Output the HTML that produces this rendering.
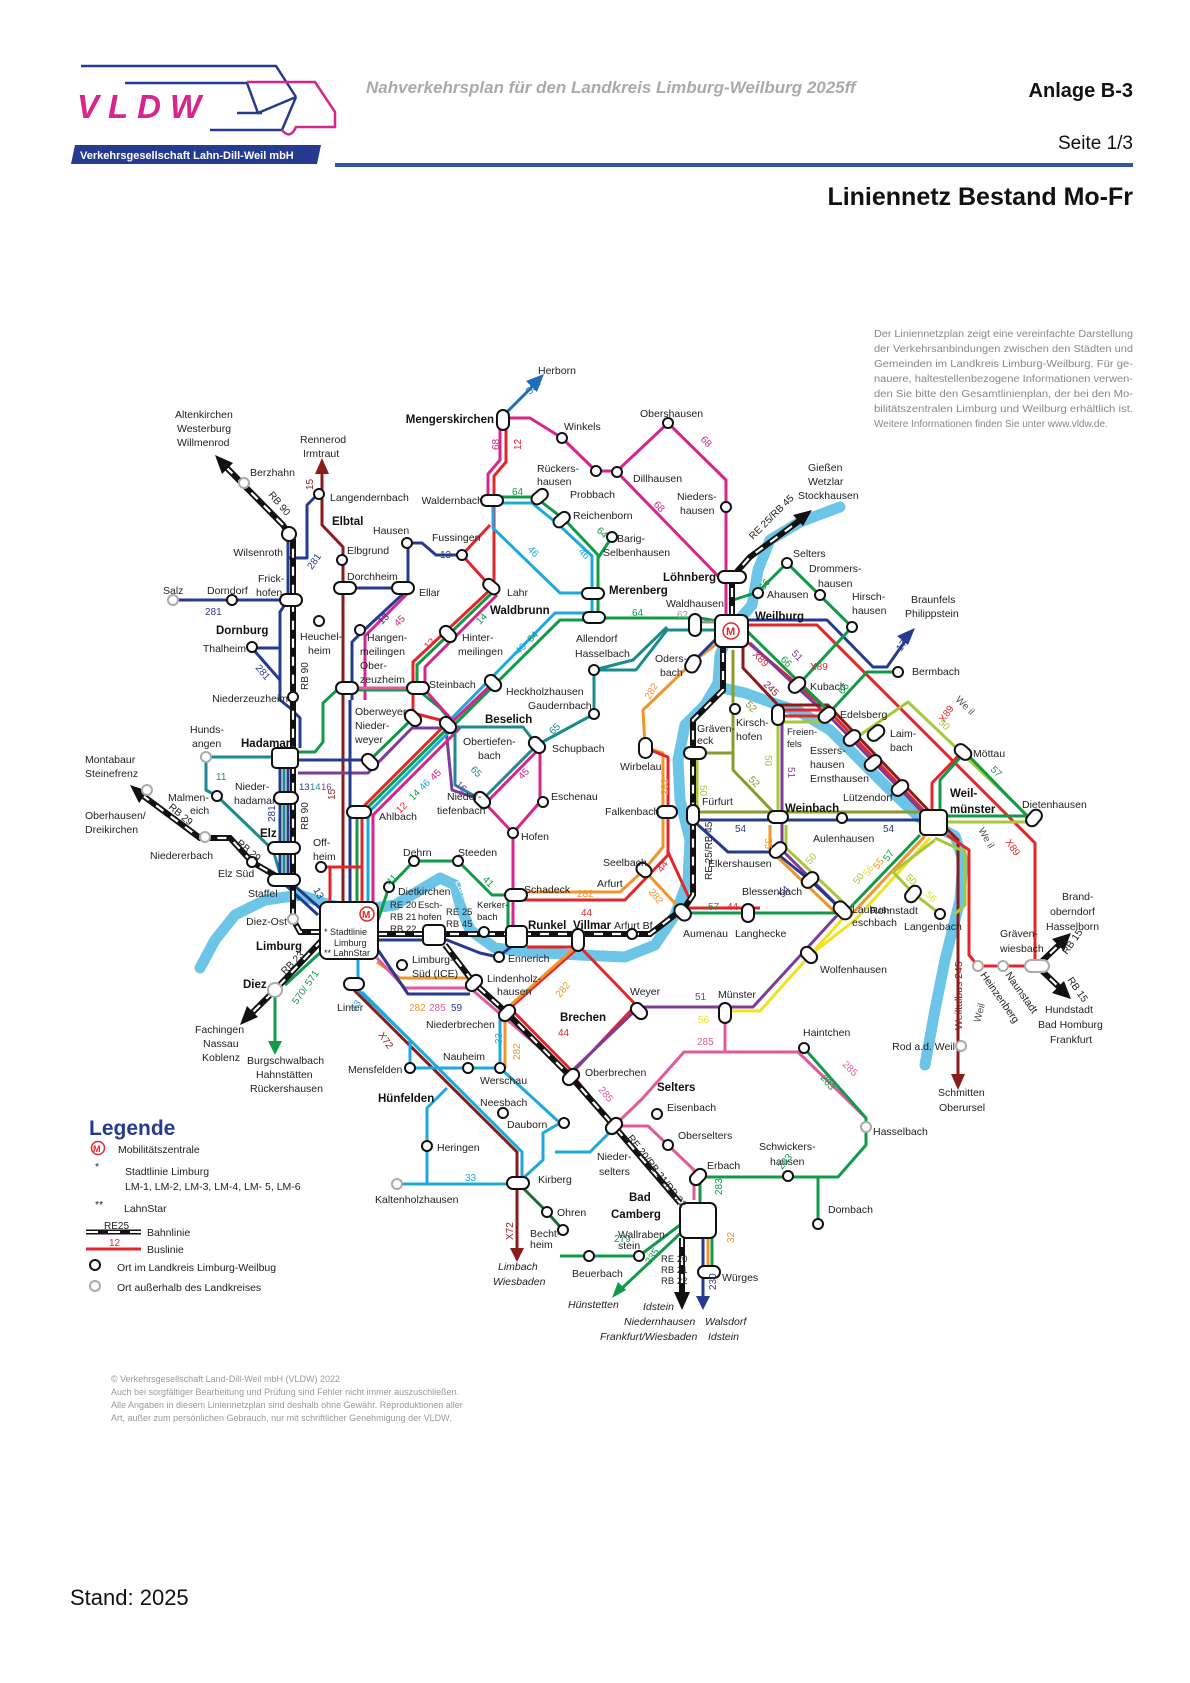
<!DOCTYPE html>
<html><head><meta charset="utf-8"><style>
html,body{margin:0;padding:0;background:#fff}
svg{display:block}
text{font-family:"Liberation Sans Narrow","Liberation Sans",sans-serif;fill:#222}
.s{font-size:10.5px}
.b{font-size:11.5px;font-weight:bold;fill:#111}
.n{font-size:10px}
.i{font-style:italic}
.k{font-size:9.5px}
.l{fill:none;stroke-width:3;stroke-linejoin:round}
.rd{stroke:#e3262b}.dr{stroke:#8b1c1c}.gr{stroke:#139a48}.cy{stroke:#1fa8dd}.nv{stroke:#263b8f}
.mg{stroke:#d6258c}.pk{stroke:#e05a9c}.or{stroke:#f0952c}.ye{stroke:#f2e21e}.lg{stroke:#a6c83a}
.ol{stroke:#8c9a2c}.pu{stroke:#7d3c97}.tl{stroke:#1b8b8c}.gy{stroke:#999}
.st{fill:#fff;stroke:#111;stroke-width:2}
.so{fill:#fff;stroke:#aaa;stroke-width:2}
.rb{fill:none;stroke:#111;stroke-width:6}
.rw{fill:none;stroke:#fff;stroke-width:2.2;stroke-dasharray:9 9}
</style></head><body>
<svg width="1190" height="1683" viewBox="0 0 1190 1683" xmlns="http://www.w3.org/2000/svg">
<g>
<path d="M81,66 H276 L296,97" stroke="#263b8f" stroke-width="2.5" fill="none"/>
<path d="M125,83 H247 L258,113 L296,97" stroke="#263b8f" stroke-width="2.5" fill="none"/>
<path d="M237,113 H262" stroke="#263b8f" stroke-width="2.5"/>
<path d="M210,130 H282 L296,97" stroke="#263b8f" stroke-width="2.5" fill="none"/>
<path d="M247,82 H315 L335,112 V127 H296 Q290,140 282,130" stroke="#d6258c" stroke-width="2.5" fill="none"/>
<text x="77" y="118" style="font-family:'Liberation Sans',sans-serif;font-size:33px;font-weight:bold;font-style:italic;fill:#d6258c;letter-spacing:9px">VLDW</text>
<polygon points="75,145 321,145 317,164 71,164" fill="#263b8f"/>
<text x="80" y="159" style="font-size:11px;font-weight:bold;fill:#fff">Verkehrsgesellschaft Lahn-Dill-Weil mbH</text>
<text x="366" y="93" style="font-family:'Liberation Sans',sans-serif;font-size:17px;font-style:italic;font-weight:bold;fill:#aaa">Nahverkehrsplan für den Landkreis Limburg-Weilburg 2025ff</text>
<text x="1133" y="97" text-anchor="end" style="font-family:'Liberation Sans',sans-serif;font-size:20px;font-weight:bold;fill:#111">Anlage B-3</text>
<text x="1133" y="149" text-anchor="end" style="font-family:'Liberation Sans',sans-serif;font-size:19px;fill:#111">Seite 1/3</text>
<rect x="335" y="163" width="798" height="4" fill="#2f56a8"/>
<text x="1133" y="205" text-anchor="end" style="font-family:'Liberation Sans',sans-serif;font-size:25px;font-weight:bold;fill:#111">Liniennetz Bestand Mo-Fr</text>
</g>
<g>
<text x="874" y="337" textLength="259" lengthAdjust="spacingAndGlyphs" style="font-size:10px;fill:#888">Der Liniennetzplan zeigt eine vereinfachte Darstellung</text>
<text x="874" y="352" textLength="259" lengthAdjust="spacingAndGlyphs" style="font-size:10px;fill:#888">der Verkehrsanbindungen zwischen den Städten und</text>
<text x="874" y="367" textLength="259" lengthAdjust="spacingAndGlyphs" style="font-size:10px;fill:#888">Gemeinden im Landkreis Limburg-Weilburg. Für ge-</text>
<text x="874" y="382" textLength="259" lengthAdjust="spacingAndGlyphs" style="font-size:10px;fill:#888">nauere, haltestellenbezogene Informationen verwen-</text>
<text x="874" y="397" textLength="259" lengthAdjust="spacingAndGlyphs" style="font-size:10px;fill:#888">den Sie bitte den Gesamtlinienplan, der bei den Mo-</text>
<text x="874" y="412" textLength="259" lengthAdjust="spacingAndGlyphs" style="font-size:10px;fill:#888">bilitätszentralen Limburg und Weilburg erhältlich ist.</text>
<text x="874" y="427" style="font-size:10px;fill:#888">Weitere Informationen finden Sie unter www.vldw.de.</text>
</g>

<g fill="none" stroke="#6cc5e6" stroke-width="11" stroke-linecap="round" stroke-linejoin="round">
<path d="M200,968 L215,940 L235,915 L265,900 L300,895 L330,905 L360,910 L395,905 L420,890 L440,878 L455,885 L460,905 L470,930 L495,948 L530,952 L580,955 L625,957 L655,945 L675,915 L688,880 L690,840 L680,800 L678,760 L685,725 L705,705 L718,683 L720,655 L730,630 L752,605 L758,570 L770,540 L800,522 L840,507"/>
<path d="M722,688 L745,693 L770,702 L800,712 L830,730 L860,760 L890,790 L920,818 L955,836 L963,860 L960,900 L945,960 L935,1010 L925,1065"/>
</g>
<g>
<text transform="translate(234,960) rotate(-68)" style="font-size:10px;fill:#fff">Lahn</text>
<text transform="translate(455,882) rotate(65)" style="font-size:10px;fill:#fff">Lahn</text>
<text transform="translate(693,700) rotate(-38)" style="font-size:10px;fill:#fff">Lahn</text>
<text transform="translate(955,700) rotate(45)" style="font-size:10px;fill:#555">We il</text>
<text transform="translate(978,830) rotate(60)" style="font-size:10px;fill:#555">We il</text>
<text transform="translate(980,1023) rotate(-75)" style="font-size:10px;fill:#555">Weil</text>
</g>

<g>
<path class="l mg" d="M505,418 H530 L562,438 L596,471 H617 L668,423 L726,480 V640"/>
<path class="l mg" d="M617,472 L718,576"/>
<path class="l mg" d="M500,425 V460 L488,474 V500"/>
<path class="l rd" d="M506,425 V462 L494,476 V587"/>
<path class="l rd" d="M490,525 L462,555 L491,587"/>
<path class="l nv" d="M503,416 L537,382" style="stroke:#1f6fb8"/>
<polygon points="544,374 526,381 537,392" fill="#1f6fb8"/>
<path class="l gr" d="M495,497 H535 L565,520 L598,555 V618 H700 L740,625"/>
<path class="l cy" d="M495,503 H532 L559,525 L592,556 V613"/>
<path class="l cy" d="M493,505 V528 L560,593 H590"/>
<path class="l gr" d="M598,558 L612,537"/>
<path class="l nv" d="M462,555 H436 L422,543 H408 V588 H350"/>
<path class="l nv" d="M405,592 L362,632 L352,642 V700"/>
<path class="l mg" d="M408,593 L365,636 V700"/>
<path class="l dr" d="M322,470 V525 L343,547 V905"/>
<polygon points="322,458 315,474 329,474" fill="#8b1c1c"/>
<path class="l nv" d="M173,600 H290"/>
<path class="l nv" d="M288,540 V600 L280,612 V700 L290,708 L300,718 V748"/>
<path class="l nv" d="M280,648 H252 L280,680"/>
<path class="l nv" d="M288,558 H307 V505 L318,494"/>
<path class="l tl" d="M206,757 H272"/>
<path class="l tl" d="M206,757 V790 L217,796 L273,850 L282,880 L300,900"/>
<path class="l nv" d="M280,768 V880 L318,915"/>
<path class="l tl" d="M284,768 V880"/>
<path class="l nv" d="M288,768 V880 L322,910"/>
<path class="l gr" d="M298,752 H315 L323,742 V703 L337,690 H418"/>
<path class="l nv" d="M298,760 H370"/>
<path class="l pu" d="M298,773 H368 L412,728 H446 L452,790 L482,800"/>
<path class="l gr" d="M418,690 L440,708 L452,722"/>
<path class="l pk" d="M348,688 H418"/>
<path class="l rd" d="M490,590 L413,662 V713 L448,722"/>
<path class="l gr" d="M493,592 L417,665 V690"/>
<path class="l mg" d="M497,595 L425,667 V690 L452,720"/>
<path class="l cy" d="M592,613 H555 L452,718"/>
<path class="l gr" d="M598,620 H560 L455,724"/>
<path class="l mg" d="M493,683 L452,722"/>
<path class="l rd" d="M448,722 L362,808 V905"/>
<path class="l gr" d="M452,724 L357,818 V905" />
<path class="l cy" d="M455,726 L368,813 V905"/>
<path class="l mg" d="M460,728 L373,815 V905"/>
<path class="l gr" d="M413,718 L370,760"/>
<path class="l nv" d="M350,700 V905"/>
<path class="l tl" d="M455,727 H523 L537,745 L594,714 V670 H636 L667,630 H715"/>
<path class="l tl" d="M455,727 V785 L482,800 L537,745"/>
<path class="l mg" d="M540,748 L486,803"/>
<path class="l mg" d="M540,748 V802 L513,833 V940"/>
<path class="l mg" d="M482,800 L513,833"/>
<path class="l rd" d="M321,867 H362 M330,867 V905"/>
<path class="l gr" d="M378,920 L389,887 L414,861 H458 L492,895 H508 V928"/>
<path class="l or" d="M518,892 H620 L644,870 L663,847 V753 L645,747 L643,710 L694,661 L715,645"/>
<path class="l rd" d="M518,900 H625 L668,855 V757 L650,750"/>
<path class="l or" d="M644,870 L683,912"/>
<path class="l rd" d="M668,852 L690,900"/>
<path class="l or" d="M517,928 V940"/>
<path class="l rd" d="M527,947 H580 L636,1005 L573,1072 L510,1008 L578,948"/>
<path class="l or" d="M377,962 L400,978 H470 L505,1010 L578,945"/>
<path class="l or" d="M505,1012 V1068"/>
<path class="l pk" d="M377,958 L405,988 H470 L575,1078 L614,1126 L642,1099 L684,1052 H798 L866,1118"/>
<path class="l pk" d="M725,1014 V1052"/>
<path class="l pk" d="M614,1126 H648 L694,1170 V1200"/>
<path class="l nv" d="M378,950 L408,994 H470"/>
<path class="l nv" d="M378,940 H447 L480,953 L498,957 L512,946"/>
<path class="l rd" d="M748,625 H817 L1035,843 V966"/>
<path class="l nv" d="M748,620 H827 L873,667 H887 L908,637"/>
<polygon points="915,628 897,636 908,645" fill="#263b8f"/>
<path class="l rd" d="M745,640 L830,712 L925,812"/>
<path class="l pu" d="M750,643 L800,690 L833,720 L928,818"/>
<path class="l dr" d="M743,647 V668 L778,705 H828 L930,812 L958,840 V1078"/>
<polygon points="958,1090 951,1074 965,1074" fill="#8b1c1c"/>
<path class="l rd" d="M778,710 H828 M778,716 H828"/>
<path class="l lg" d="M778,722 H828"/>
<path class="l gr" d="M733,615 V600 L758,592 L787,563 L852,627 L800,683 L830,712 M830,712 L867,672 H898"/>
<path class="l gr" d="M748,632 L800,683"/>
<path class="l ol" d="M733,650 V770 L778,817 M695,753 H733"/>
<path class="l lg" d="M697,755 V815 M778,720 V813"/>
<path class="l pu" d="M782,720 V850 L842,910 L753,1007 H639 L573,1070"/>
<path class="l ye" d="M846,915 L760,1011 H725"/>
<path class="l ol" d="M697,812 H920"/>
<path class="l nv" d="M697,820 H920"/>
<path class="l nv" d="M697,824 L728,852 H775 L812,882 L842,910"/>
<path class="l or" d="M770,825 V850 L838,915"/>
<path class="l lg" d="M786,825 V848 L846,905"/>
<path class="l gr" d="M920,835 L845,913 H684"/>
<path class="l rd" d="M684,908 H760"/>
<path class="l or" d="M925,836 L850,916"/>
<path class="l ye" d="M930,838 L855,920 L810,955"/>
<path class="l lg" d="M935,838 L965,852 V905 L955,914 M935,840 L893,872 L913,893 L940,914"/>
<path class="l lg" d="M860,735 L908,702 L1027,815 M947,822 H1034"/>
<path class="l gr" d="M945,816 H1027 L965,752 L940,780 V812"/>
<path class="l rd" d="M932,812 V783 L962,752"/>
<path class="l rd" d="M947,835 L969,850 V955 L978,966 H1037"/>
<path class="l tl" d="M594,670 L633,660 L667,627"/>
<path class="l nv" d="M694,661 L715,640"/>
<path class="l gy" d="M695,622 H728 V615"/>
<path class="l gr" d="M700,1177 H838 L866,1145 V1118 L804,1048"/>
<path class="l gr" d="M818,1177 V1224"/>
<path class="l gr" d="M700,1180 V1203"/>
<path class="l gr" d="M680,1225 L639,1256 H560"/>
<path class="l gr" d="M684,1230 L618,1292"/>
<polygon points="612,1298 618,1282 626,1290" fill="#139a48"/>
<path class="l nv" d="M703,1238 V1300"/>
<polygon points="703,1310 696,1296 710,1296" fill="#263b8f"/>
<path class="l or" d="M708,1238 V1270"/>
<path class="l gr" d="M712,1238 V1270"/>
<path class="l dr" d="M354,990 L517,1152 V1252"/>
<polygon points="517,1262 510,1248 524,1248" fill="#8b1c1c"/>
<path class="l cy" d="M358,959 V990 L410,1040 V1068 H500 V1013"/>
<path class="l cy" d="M362,992 L522,1152 V1183"/>
<path class="l cy" d="M447,1088 L427,1108 V1184 M397,1184 H518"/>
<path class="l cy" d="M500,1068 L560,1123 M518,1183 L543,1160 V1133 L560,1123"/>
<path class="l cy" d="M614,1128 L590,1152 H555"/>
<path class="l gr" d="M520,1185 L547,1212 L563,1230" style="stroke:#1e6b3a"/>
<path class="l gr" d="M275,990 V1045"/>
<polygon points="275,1055 268,1041 282,1041" fill="#139a48"/>
<path class="l gr" d="M285,985 L323,950"/>
</g>

<g>
<path class="rb" d="M378,934 H632 L650,934 L685,907 L693,895 V720 L723,690 V647 M732,615 V577 L750,557 L803,518"/>
<path class="rw" d="M378,934 H632 L650,934 L685,907 L693,895 V720 L723,690 V647 M732,615 V577 L750,557 L803,518"/>
<polygon points="812,510 793,515 803,526" fill="#111"/>
<path class="rb" d="M320,932 H300 L293,919 V540 L283,525 L225,466"/>
<path class="rw" d="M320,932 H300 L293,919 V540 L283,525 L225,466"/>
<polygon points="215,455 222,474 233,463" fill="#111"/>
<path class="rb" d="M283,880 L252,862 L230,838 H200 L142,795"/>
<path class="rw" d="M283,880 L252,862 L230,838 H200 L142,795"/>
<polygon points="130,785 139,803 148,791" fill="#111"/>
<path class="rb" d="M322,940 L275,990 L252,1013"/>
<path class="rw" d="M322,940 L275,990 L252,1013"/>
<polygon points="240,1025 247,1006 258,1017" fill="#111"/>
<path class="rb" d="M445,945 L474,983 L507,1013 L571,1077 L614,1126 L680,1203 M682,1238 V1295"/>
<path class="rw" d="M445,945 L474,983 L507,1013 L571,1077 L614,1126 L680,1203 M682,1238 V1295"/>
<polygon points="682,1310 674,1292 690,1292" fill="#111"/>
<path class="rb" d="M1037,966 L1062,942 M1037,966 L1062,990"/>
<path class="rw" d="M1037,966 L1062,942 M1037,966 L1062,990"/>
<polygon points="1071,933 1052,939 1064,951" fill="#111"/>
<polygon points="1071,999 1064,981 1052,993" fill="#111"/>
</g>

<g>
<rect x="320" y="902" width="58" height="57" rx="7" class="st"/>
<circle cx="367" cy="914" r="7" fill="#fff" stroke="#e3262b" stroke-width="1.5"/><text x="362" y="918" style="font-size:10px;fill:#e3262b;font-weight:bold">M</text>
<text x="324" y="935" style="font-size:9px">* Stadtlinie</text><text x="334" y="946" style="font-size:9px">Limburg</text><text x="324" y="956" style="font-size:9px">** LahnStar</text>
<rect x="715" y="615" width="33" height="32" rx="6" class="st"/>
<circle cx="731" cy="631" r="8" fill="#fff" stroke="#e3262b" stroke-width="1.5"/><text x="726" y="635" style="font-size:11px;fill:#e3262b;font-weight:bold">M</text>
<rect x="920" y="810" width="27" height="25" rx="5" class="st"/>
<rect x="680" y="1203" width="36" height="35" rx="6" class="st"/>
<rect x="272" y="748" width="26" height="20" rx="4" class="st"/>
<rect x="506" y="926" width="21" height="21" rx="4" class="st"/>
<rect x="423" y="925" width="22" height="20" rx="4" class="st"/>
</g>

<g class="st">
<rect x="497" y="410" width="12" height="20" rx="6"/>
<rect x="481" y="495" width="22" height="11" rx="5.5"/>
<rect x="531" y="491" width="18" height="11" rx="5.5" transform="rotate(-40 540 497)"/>
<rect x="553" y="514" width="18" height="11" rx="5.5" transform="rotate(-40 562 520)"/>
<rect x="482" y="581" width="18" height="11" rx="5.5" transform="rotate(40 491 587)"/>
<rect x="582" y="588" width="22" height="11" rx="5.5"/>
<rect x="583" y="612" width="22" height="11" rx="5.5"/>
<rect x="718" y="571" width="28" height="12" rx="6"/>
<rect x="689" y="614" width="12" height="22" rx="6"/>
<rect x="688" y="655" width="13" height="18" rx="6.5" transform="rotate(30 694 661)"/>
<rect x="639" y="738" width="13" height="20" rx="6.5"/>
<rect x="657" y="806" width="20" height="12" rx="6"/>
<rect x="636" y="864" width="16" height="12" rx="6" transform="rotate(40 644 870)"/>
<rect x="684" y="747" width="22" height="12" rx="6"/>
<rect x="687" y="805" width="12" height="20" rx="6"/>
<rect x="772" y="705" width="12" height="20" rx="6"/>
<rect x="788" y="679" width="18" height="12" rx="6" transform="rotate(-40 797 685)"/>
<rect x="818" y="709" width="18" height="12" rx="6" transform="rotate(-40 827 715)"/>
<rect x="843" y="732" width="18" height="12" rx="6" transform="rotate(-40 852 738)"/>
<rect x="864" y="757" width="18" height="12" rx="6" transform="rotate(-40 873 763)"/>
<rect x="891" y="782" width="18" height="12" rx="6" transform="rotate(-40 900 788)"/>
<rect x="867" y="727" width="18" height="12" rx="6" transform="rotate(-40 876 733)"/>
<rect x="954" y="746" width="18" height="12" rx="6" transform="rotate(40 963 752)"/>
<rect x="1025" y="812" width="18" height="12" rx="6" transform="rotate(-50 1034 818)"/>
<rect x="768" y="811" width="20" height="12" rx="6"/>
<rect x="769" y="844" width="18" height="12" rx="6" transform="rotate(-40 778 850)"/>
<rect x="801" y="874" width="18" height="12" rx="6" transform="rotate(-40 810 880)"/>
<rect x="833" y="904" width="20" height="13" rx="6.5" transform="rotate(45 843 910)"/>
<rect x="800" y="949" width="18" height="12" rx="6" transform="rotate(45 809 955)"/>
<rect x="904" y="888" width="18" height="12" rx="6" transform="rotate(-50 913 894)"/>
<rect x="674" y="906" width="18" height="13" rx="6.5" transform="rotate(45 683 912)"/>
<rect x="742" y="904" width="12" height="18" rx="6"/>
<rect x="572" y="929" width="12" height="22" rx="6"/>
<rect x="505" y="889" width="22" height="12" rx="6"/>
<rect x="630" y="1005" width="18" height="12" rx="6" transform="rotate(45 639 1011)"/>
<rect x="719" y="1003" width="12" height="20" rx="6"/>
<rect x="562" y="1071" width="18" height="12" rx="6" transform="rotate(-45 571 1077)"/>
<rect x="605" y="1120" width="18" height="12" rx="6" transform="rotate(-45 614 1126)"/>
<rect x="689" y="1171" width="18" height="12" rx="6" transform="rotate(-45 698 1177)"/>
<rect x="698" y="1266" width="22" height="12" rx="6"/>
<rect x="1025" y="960" width="24" height="12" rx="6" class="so"/>
<rect x="465" y="977" width="18" height="12" rx="6" transform="rotate(-45 474 983)"/>
<rect x="498" y="1007" width="18" height="12" rx="6" transform="rotate(-45 507 1013)"/>
<rect x="344" y="978" width="20" height="12" rx="6"/>
<rect x="507" y="1177" width="22" height="12" rx="6"/>
<rect x="347" y="806" width="24" height="12" rx="6"/>
<rect x="439" y="719" width="18" height="12" rx="6" transform="rotate(45 448 725)"/>
<rect x="404" y="712" width="18" height="12" rx="6" transform="rotate(45 413 718)"/>
<rect x="361" y="756" width="18" height="12" rx="6" transform="rotate(45 370 762)"/>
<rect x="484" y="677" width="18" height="12" rx="6" transform="rotate(45 493 683)"/>
<rect x="439" y="628" width="18" height="12" rx="6" transform="rotate(45 448 634)"/>
<rect x="528" y="739" width="18" height="12" rx="6" transform="rotate(45 537 745)"/>
<rect x="473" y="794" width="18" height="12" rx="6" transform="rotate(45 482 800)"/>
<rect x="407" y="682" width="22" height="12" rx="6"/>
<rect x="336" y="682" width="22" height="12" rx="6"/>
<rect x="334" y="582" width="22" height="12" rx="6"/>
<rect x="392" y="582" width="22" height="12" rx="6"/>
<rect x="282" y="527" width="14" height="14" rx="7" transform="rotate(45 289 534)"/>
<rect x="280" y="594" width="22" height="12" rx="6"/>
<rect x="274" y="792" width="24" height="12" rx="6"/>
<rect x="268" y="842" width="32" height="12" rx="6"/>
<rect x="268" y="874" width="32" height="12" rx="6"/>
<rect x="268" y="983" width="14" height="14" rx="7" class="so"/>
</g>
<g>
<circle class="st" cx="562" cy="438" r="5"/><circle class="st" cx="596" cy="471" r="5"/><circle class="st" cx="617" cy="472" r="5"/>
<circle class="st" cx="668" cy="423" r="5"/><circle class="st" cx="726" cy="507" r="5"/><circle class="st" cx="612" cy="537" r="5"/>
<circle class="st" cx="462" cy="555" r="5"/><circle class="st" cx="758" cy="593" r="5"/><circle class="st" cx="787" cy="563" r="5"/>
<circle class="st" cx="820" cy="595" r="5"/><circle class="st" cx="852" cy="627" r="5"/><circle class="st" cx="898" cy="672" r="5"/>
<circle class="st" cx="735" cy="709" r="5"/><circle class="st" cx="842" cy="818" r="5"/><circle class="st" cx="940" cy="914" r="5"/>
<circle class="st" cx="632" cy="934" r="5"/><circle class="st" cx="804" cy="1048" r="5"/><circle class="st" cx="657" cy="1114" r="5"/>
<circle class="st" cx="668" cy="1145" r="5"/><circle class="st" cx="788" cy="1176" r="5"/><circle class="st" cx="818" cy="1224" r="5"/>
<circle class="so" cx="866" cy="1127" r="5"/><circle class="st" cx="639" cy="1256" r="5"/><circle class="st" cx="589" cy="1256" r="5"/>
<circle class="st" cx="547" cy="1212" r="5"/><circle class="st" cx="563" cy="1230" r="5"/><circle class="st" cx="564" cy="1123" r="5"/>
<circle class="st" cx="503" cy="1113" r="5"/><circle class="st" cx="427" cy="1146" r="5"/><circle class="so" cx="397" cy="1184" r="5"/>
<circle class="st" cx="410" cy="1068" r="5"/><circle class="st" cx="468" cy="1068" r="5"/><circle class="st" cx="500" cy="1068" r="5"/>
<circle class="so" cx="961" cy="1046" r="5"/><circle class="so" cx="978" cy="966" r="5"/><circle class="so" cx="1003" cy="966" r="5"/>
<circle class="st" cx="594" cy="714" r="5"/><circle class="st" cx="594" cy="670" r="5"/><circle class="st" cx="543" cy="802" r="5"/>
<circle class="st" cx="513" cy="833" r="5"/><circle class="st" cx="414" cy="861" r="5"/><circle class="st" cx="458" cy="861" r="5"/>
<circle class="st" cx="389" cy="887" r="5"/><circle class="st" cx="484" cy="932" r="5"/><circle class="st" cx="402" cy="965" r="5"/>
<circle class="st" cx="499" cy="957" r="5"/><circle class="st" cx="321" cy="867" r="5"/><circle class="so" cx="293" cy="919" r="5"/>
<circle class="st" cx="252" cy="862" r="5"/><circle class="so" cx="205" cy="837" r="5"/><circle class="st" cx="217" cy="796" r="5"/>
<circle class="so" cx="206" cy="757" r="5"/><circle class="st" cx="293" cy="697" r="5"/><circle class="st" cx="252" cy="647" r="5"/>
<circle class="st" cx="232" cy="600" r="5"/><circle class="so" cx="173" cy="600" r="5"/><circle class="so" cx="244" cy="483" r="5"/>
<circle class="st" cx="319" cy="494" r="5"/><circle class="st" cx="342" cy="560" r="5"/><circle class="st" cx="407" cy="543" r="5"/>
<circle class="st" cx="319" cy="621" r="5"/><circle class="st" cx="360" cy="630" r="5"/><circle class="so" cx="147" cy="790" r="5"/>
</g>

<g class="s">
<text x="538" y="374">Herborn</text>
<text class="b" x="494" y="423" text-anchor="end">Mengerskirchen</text>
<text x="564" y="430">Winkels</text>
<text x="537" y="472">Rückers-</text><text x="537" y="485">hausen</text>
<text x="570" y="498">Probbach</text><text x="573" y="519">Reichenborn</text>
<text x="617" y="542">Barig-</text><text x="603" y="556">Selbenhausen</text>
<text x="640" y="417">Obershausen</text><text x="633" y="482">Dillhausen</text>
<text x="677" y="500">Nieders-</text><text x="680" y="514">hausen</text>
<text x="808" y="471">Gießen</text><text x="808" y="485">Wetzlar</text><text x="798" y="499">Stockhausen</text>
<text class="b" x="716" y="581" text-anchor="end">Löhnberg</text>
<text class="b" x="609" y="594">Merenberg</text>
<text x="483" y="504" text-anchor="end">Waldernbach</text>
<text x="432" y="541">Fussingen</text>
<text x="507" y="596">Lahr</text><text class="b" x="490" y="614">Waldbrunn</text>
<text x="576" y="642">Allendorf</text><text x="575" y="657">Hasselbach</text>
<text x="666" y="607">Waldhausen</text><text x="677" y="618" style="fill:#999;font-size:10px">62</text>
<text x="767" y="598">Ahausen</text><text x="793" y="557">Selters</text>
<text x="809" y="572">Drommers-</text><text x="818" y="587">hausen</text>
<text x="852" y="600">Hirsch-</text><text x="852" y="614">hausen</text>
<text class="b" x="755" y="620">Weilburg</text>
<text x="911" y="603">Braunfels</text><text x="905" y="617">Philippstein</text>
<text x="912" y="675">Bermbach</text>
<text x="655" y="662">Oders-</text><text x="660" y="676">bach</text>
<text x="810" y="690">Kubach</text><text x="840" y="718">Edelsberg</text>
<text x="697" y="732">Gräven-</text><text x="697" y="744">eck</text>
<text x="736" y="726">Kirsch-</text><text x="736" y="740">hofen</text>
<text x="787" y="735" style="font-size:9.5px">Freien-</text><text x="787" y="747" style="font-size:9.5px">fels</text>
<text x="810" y="754">Essers-</text><text x="810" y="768">hausen</text><text x="810" y="782">Ernsthausen</text>
<text x="890" y="737">Laim-</text><text x="890" y="751">bach</text>
<text x="973" y="757">Möttau</text><text x="843" y="801">Lützendorf</text>
<text class="b" x="950" y="797">Weil-</text><text class="b" x="950" y="813">münster</text>
<text x="1022" y="808">Dietenhausen</text>
<text x="620" y="770">Wirbelau</text><text x="605" y="815">Falkenbach</text>
<text x="702" y="805">Fürfurt</text><text class="b" x="785" y="812">Weinbach</text>
<text x="813" y="842">Aulenhausen</text><text x="708" y="867">Elkershausen</text>
<text x="742" y="895">Blessenbach</text><text x="603" y="866">Seelbach</text>
<text x="597" y="887">Arfurt</text><text x="524" y="893">Schadeck</text>
<text x="870" y="914">Rohnstadt</text><text x="904" y="930">Langenbach</text>
<text x="852" y="913">Laubus-</text><text x="852" y="926">eschbach</text>
<text x="683" y="937">Aumenau</text><text x="735" y="937">Langhecke</text>
<text x="820" y="973">Wolfenhausen</text>
<text class="b" x="573" y="929">Villmar</text><text x="614" y="929">Arfurt Bf</text>
<text class="b" x="528" y="929">Runkel</text>
<text x="630" y="995">Weyer</text><text x="718" y="998">Münster</text>
<text class="b" x="560" y="1021">Brechen</text>
<text x="803" y="1036">Haintchen</text><text x="585" y="1076">Oberbrechen</text>
<text class="b" x="657" y="1091">Selters</text><text x="667" y="1111">Eisenbach</text>
<text x="678" y="1139">Oberselters</text>
<text x="597" y="1160">Nieder-</text><text x="599" y="1175">selters</text>
<text x="707" y="1169">Erbach</text>
<text x="759" y="1150">Schwickers-</text><text x="770" y="1165">hausen</text>
<text x="873" y="1135">Hasselbach</text><text x="828" y="1213">Dombach</text>
<text class="b" x="629" y="1201">Bad</text><text class="b" x="611" y="1218">Camberg</text>
<text x="618" y="1238">Wallraben-</text><text x="618" y="1249">stein</text>
<text x="572" y="1277">Beuerbach</text><text x="722" y="1281">Würges</text>
<text class="i" x="568" y="1308">Hünstetten</text>
<text class="i" x="643" y="1310">Idstein</text><text class="i" x="624" y="1325">Niedernhausen</text><text class="i" x="600" y="1340">Frankfurt/Wiesbaden</text>
<text class="i" x="705" y="1325">Walsdorf</text><text class="i" x="708" y="1340">Idstein</text>
<text x="955" y="1050" text-anchor="end">Rod a.d. Weil</text>
<text x="938" y="1096">Schmitten</text><text x="939" y="1111">Oberursel</text>
<text x="1000" y="937">Gräven-</text><text x="1000" y="952">wiesbach</text>
<text x="1062" y="900">Brand-</text><text x="1050" y="915">oberndorf</text><text x="1046" y="930">Hasselborn</text>
<text x="1045" y="1013">Hundstadt</text><text x="1038" y="1028">Bad Homburg</text><text x="1050" y="1043">Frankfurt</text>
<text transform="translate(980,975) rotate(55)">Heinzenberg</text>
<text transform="translate(1005,975) rotate(55)">Naunstadt</text>
<text transform="translate(962,1030) rotate(-90)" style="fill:#8b1c1c">Weiltalbus 245</text>
<text x="175" y="418">Altenkirchen</text><text x="177" y="432">Westerburg</text><text x="177" y="446">Willmenrod</text>
<text x="300" y="443">Rennerod</text><text x="303" y="457">Irmtraut</text>
<text x="250" y="476">Berzhahn</text><text x="330" y="501">Langendernbach</text>
<text class="b" x="332" y="525">Elbtal</text><text x="373" y="534">Hausen</text>
<text x="347" y="554">Elbgrund</text><text x="283" y="556" text-anchor="end">Wilsenroth</text>
<text x="347" y="580">Dorchheim</text><text x="419" y="596">Ellar</text>
<text x="258" y="582">Frick-</text><text x="256" y="596">hofen</text>
<text x="163" y="594">Salz</text><text x="207" y="594">Dorndorf</text>
<text class="b" x="216" y="634">Dornburg</text><text x="246" y="652" text-anchor="end">Thalheim</text>
<text x="300" y="640">Heuchel-</text><text x="308" y="654">heim</text>
<text x="367" y="641">Hangen-</text><text x="360" y="655">meilingen</text><text x="360" y="669">Ober-</text><text x="360" y="683">zeuzheim</text>
<text x="462" y="641">Hinter-</text><text x="458" y="655">meilingen</text>
<text x="429" y="688">Steinbach</text><text x="506" y="695">Heckholzhausen</text>
<text x="528" y="709">Gaudernbach</text>
<text x="288" y="702" text-anchor="end">Niederzeuzheim</text>
<text x="355" y="715">Oberweyer</text><text x="355" y="729">Nieder-</text><text x="355" y="743">weyer</text>
<text class="b" x="485" y="723">Beselich</text>
<text x="463" y="745">Obertiefen-</text><text x="478" y="759">bach</text>
<text x="552" y="752">Schupbach</text>
<text x="190" y="733">Hunds-</text><text x="192" y="747">angen</text>
<text class="b" x="241" y="747">Hadamar</text>
<text x="85" y="763">Montabaur</text><text x="85" y="777">Steinefrenz</text>
<text x="235" y="790">Nieder-</text><text x="234" y="804">hadamar</text>
<text x="168" y="801">Malmen-</text><text x="190" y="814">eich</text>
<text x="85" y="819">Oberhausen/</text><text x="85" y="833">Dreikirchen</text>
<text class="b" x="260" y="837">Elz</text>
<text x="150" y="859">Niedererbach</text><text x="218" y="877">Elz Süd</text>
<text x="248" y="897">Staffel</text>
<text x="313" y="846">Off-</text><text x="313" y="860">heim</text>
<text x="403" y="856">Dehrn</text><text x="458" y="856">Steeden</text>
<text x="398" y="895">Dietkirchen</text>
<text x="287" y="925" text-anchor="end">Diez-Ost</text>
<text class="b" x="302" y="950" text-anchor="end">Limburg</text>
<text class="b" x="243" y="988">Diez</text>
<text x="195" y="1033">Fachingen</text><text x="203" y="1047">Nassau</text><text x="202" y="1061">Koblenz</text>
<text x="247" y="1064">Burgschwalbach</text><text x="256" y="1078">Hahnstätten</text><text x="250" y="1092">Rückershausen</text>
<text x="337" y="1011">Linter</text>
<text x="412" y="963">Limburg-</text><text x="412" y="977">Süd (ICE)</text>
<text x="508" y="962">Ennerich</text>
<text x="487" y="982">Lindenholz-</text><text x="497" y="995">hausen</text>
<text x="426" y="1028">Niederbrechen</text><text x="443" y="1060">Nauheim</text>
<text x="348" y="1073">Mensfelden</text><text x="480" y="1084">Werschau</text>
<text class="b" x="378" y="1102">Hünfelden</text><text x="480" y="1106">Neesbach</text>
<text x="507" y="1128">Dauborn</text><text x="437" y="1151">Heringen</text>
<text x="375" y="1203">Kaltenholzhausen</text><text x="538" y="1183">Kirberg</text>
<text x="557" y="1216">Ohren</text><text x="530" y="1237">Becht-</text><text x="530" y="1248">heim</text>
<text class="i" x="498" y="1270">Limbach</text><text class="i" x="493" y="1285">Wiesbaden</text>
<text x="551" y="800">Eschenau</text><text x="521" y="840">Hofen</text>
<text x="447" y="800">Nieder-</text><text x="437" y="814">tiefenbach</text>
<text x="379" y="820">Ahlbach</text>
</g>
<g class="k">
<text x="390" y="908">RE 20</text><text x="390" y="920">RB 21</text><text x="390" y="932">RB 22</text>
<text x="418" y="908">Esch-</text><text x="418" y="920">hofen</text>
<text x="446" y="915">RE 25</text><text x="446" y="927">RB 45</text>
<text x="477" y="908">Kerker-</text><text x="477" y="920">bach</text>
<text x="661" y="1262">RE 20</text><text x="661" y="1273">RB 21</text><text x="661" y="1284">RB 22</text>
</g>
<g class="n">
<text transform="translate(753,540) rotate(-45)">RE 25/RB 45</text>
<text transform="translate(712,880) rotate(-90)">RE 25/RB 45</text>
<text transform="translate(308,830) rotate(-90)">RB 90</text>
<text transform="translate(308,690) rotate(-90)">RB 90</text>
<text transform="translate(268,495) rotate(50)">RB 90</text>
<text transform="translate(168,808) rotate(40)">RB 29</text>
<text transform="translate(236,844) rotate(40)">RB 29</text>
<text transform="translate(285,975) rotate(-45)">RB 23</text>
<text transform="translate(627,1138) rotate(52)">RE 20/RB 21/RB 22</text>
<text transform="translate(1067,955) rotate(-55)">RB 15</text>
<text transform="translate(1067,980) rotate(55)">RB 15</text>
</g>
<g style="font-size:10px">
<text transform="translate(499,450) rotate(-90)" style="fill:#d6258c">68</text>
<text transform="translate(521,450) rotate(-90)" style="fill:#e3262b">12</text>
<text x="512" y="495" style="fill:#139a48">64</text>
<text transform="translate(530,395) rotate(-45)" style="fill:#1f6fb8">530</text>
<text transform="translate(700,440) rotate(45)" style="fill:#d6258c">68</text>
<text transform="translate(653,505) rotate(45)" style="fill:#d6258c">68</text>
<text transform="translate(527,550) rotate(45)" style="fill:#1fa8dd">46</text>
<text transform="translate(578,552) rotate(45)" style="fill:#1fa8dd">46</text>
<text transform="translate(596,531) rotate(45)" style="fill:#139a48">64</text>
<text x="632" y="616" style="fill:#139a48">64</text>
<text x="440" y="558" style="fill:#263b8f">13</text>
<text x="205" y="615" style="fill:#263b8f">281</text>
<text transform="translate(312,570) rotate(-55)" style="fill:#263b8f">281</text>
<text transform="translate(255,668) rotate(50)" style="fill:#263b8f">281</text>
<text transform="translate(275,822) rotate(-90)" style="fill:#263b8f">281</text>
<text transform="translate(313,490) rotate(-90)" style="fill:#8b1c1c">15</text>
<text transform="translate(335,800) rotate(-90)" style="fill:#8b1c1c">15</text>
<text x="216" y="780" style="fill:#1b8b8c">11</text>
<text x="299" y="790" style="font-size:9.5px;fill:#263b8f">13</text><text x="310" y="790" style="font-size:9.5px;fill:#1b8b8c">14</text><text x="321" y="790" style="font-size:9.5px;fill:#7d3c97">16</text>
<text transform="translate(382,625) rotate(-45)" style="fill:#263b8f">13</text>
<text transform="translate(398,627) rotate(-45)" style="fill:#d6258c">45</text>
<text transform="translate(428,650) rotate(-45)" style="fill:#e3262b">12</text>
<text transform="translate(480,625) rotate(-45)" style="fill:#139a48">14</text>
<text transform="translate(519,655) rotate(-45)" style="fill:#1fa8dd">46</text><text transform="translate(531,643) rotate(-45)" style="fill:#139a48">64</text>
<text transform="translate(400,814) rotate(-45)" style="fill:#e3262b">12</text><text transform="translate(413,801) rotate(-45)" style="fill:#139a48">14</text><text transform="translate(423,791) rotate(-45)" style="fill:#1fa8dd">46</text><text transform="translate(434,781) rotate(-45)" style="fill:#d6258c">45</text>
<text transform="translate(455,785) rotate(45)" style="fill:#7d3c97">16</text>
<text transform="translate(470,770) rotate(45)" style="fill:#1b8b8c">65</text>
<text transform="translate(522,780) rotate(-45)" style="fill:#d6258c">45</text>
<text transform="translate(553,735) rotate(-45)" style="fill:#1b8b8c">65</text>
<text transform="translate(390,886) rotate(-45)" style="fill:#139a48">41</text>
<text transform="translate(482,880) rotate(45)" style="fill:#139a48">41</text>
<text x="577" y="897" style="fill:#f0952c">282</text><text x="581" y="916" style="fill:#e3262b">44</text>
<text transform="translate(650,700) rotate(-60)" style="fill:#f0952c">282</text>
<text transform="translate(668,795) rotate(-90)" style="fill:#f0952c">282</text>
<text transform="translate(648,892) rotate(50)" style="fill:#f0952c">282</text>
<text transform="translate(662,873) rotate(-55)" style="fill:#e3262b">44</text>
<text transform="translate(560,998) rotate(-50)" style="fill:#f0952c">282</text>
<text x="558" y="1036" style="fill:#e3262b">44</text>
<text x="409" y="1011" style="fill:#f0952c">282</text><text x="429" y="1011" style="fill:#e05a9c">285</text><text x="451" y="1011" style="fill:#263b8f">59</text>
<text transform="translate(502,1044) rotate(-90)" style="fill:#1fa8dd">33</text>
<text transform="translate(520,1060) rotate(-90)" style="fill:#f0952c">282</text>
<text x="465" y="1181" style="fill:#1fa8dd">33</text>
<text transform="translate(378,1035) rotate(55)" style="fill:#8b1c1c">X72</text>
<text transform="translate(513,1240) rotate(-90)" style="fill:#8b1c1c">X72</text>
<text x="614" y="1242" style="fill:#139a48">279</text>
<text transform="translate(650,1265) rotate(-55)" style="fill:#139a48">235</text>
<text transform="translate(716,1290) rotate(-90)" style="fill:#263b8f">230</text>
<text transform="translate(734,1243) rotate(-90)" style="fill:#f0952c">32</text>
<text transform="translate(722,1195) rotate(-90)" style="fill:#139a48">283</text>
<text transform="translate(782,1170) rotate(-50)" style="fill:#139a48">283</text>
<text transform="translate(820,1078) rotate(50)" style="fill:#139a48">283</text>
<text transform="translate(842,1065) rotate(45)" style="fill:#e05a9c">285</text>
<text x="697" y="1045" style="fill:#e05a9c">285</text>
<text transform="translate(598,1090) rotate(50)" style="fill:#e05a9c">285</text>
<text x="695" y="1000" style="fill:#7d3c97">51</text><text x="698" y="1023" style="fill:#f2e21e">56</text>
<text x="708" y="910" style="fill:#139a48">57</text><text x="727" y="910" style="fill:#e3262b">44</text>
<text x="735" y="832" style="fill:#263b8f">54</text><text x="883" y="832" style="fill:#263b8f">54</text>
<text x="810" y="670" style="fill:#e3262b">X89</text>
<text transform="translate(752,655) rotate(45)" style="fill:#e3262b">X89</text>
<text transform="translate(763,685) rotate(45)" style="fill:#8b1c1c">245</text>
<text transform="translate(780,660) rotate(45)" style="fill:#139a48">66</text><text transform="translate(791,654) rotate(45)" style="fill:#7d3c97">51</text>
<text transform="translate(764,591) rotate(-55)" style="fill:#139a48">66</text>
<text transform="translate(843,695) rotate(-55)" style="fill:#139a48">66</text>
<text transform="translate(901,652) rotate(-55)" style="fill:#263b8f">172</text>
<text transform="translate(944,723) rotate(-55)" style="fill:#e3262b">X89</text>
<text transform="translate(1005,842) rotate(55)" style="fill:#e3262b">X89</text>
<text transform="translate(938,723) rotate(45)" style="fill:#a6c83a">50</text>
<text transform="translate(990,770) rotate(45)" style="fill:#139a48">57</text>
<text transform="translate(700,785) rotate(90)" style="fill:#a6c83a">50</text>
<text transform="translate(765,755) rotate(90)" style="fill:#a6c83a">50</text>
<text transform="translate(788,767) rotate(90)" style="fill:#7d3c97">51</text>
<text transform="translate(748,780) rotate(45)" style="fill:#8c9a2c">52</text>
<text transform="translate(745,705) rotate(45)" style="fill:#8c9a2c">52</text>
<text transform="translate(765,838) rotate(90)" style="fill:#f0952c">55</text>
<text transform="translate(810,865) rotate(-50)" style="fill:#a6c83a">50</text>
<text transform="translate(783,898) rotate(-50)" style="fill:#263b8f">54</text>
<text transform="translate(858,885) rotate(-55)" style="fill:#a6c83a">50</text><text transform="translate(868,877) rotate(-55)" style="fill:#f2e21e">56</text><text transform="translate(878,870) rotate(-55)" style="fill:#f0952c">55</text><text transform="translate(888,862) rotate(-55)" style="fill:#139a48">57</text>
<text transform="translate(905,878) rotate(45)" style="fill:#a6c83a">50</text>
<text transform="translate(925,895) rotate(45)" style="fill:#f2e21e">56</text>
<text transform="translate(313,890) rotate(60)" style="fill:#263b8f">13</text>
<text transform="translate(297,1005) rotate(-55)" style="fill:#139a48">570/ 571</text>
<text transform="translate(355,1012) rotate(-55)" style="fill:#1fa8dd">33</text>
</g>

<g>
<text x="89" y="1135" style="font-family:'Liberation Sans',sans-serif;font-size:21px;font-weight:bold;fill:#263b8f">Legende</text>
<circle cx="98" cy="1148" r="6.5" fill="#fff" stroke="#e3262b" stroke-width="1.5"/><text x="93" y="1152" style="font-size:9px;fill:#e3262b;font-weight:bold">M</text>
<text x="118" y="1153" class="s">Mobilitätszentrale</text>
<text x="95" y="1170" class="s">*</text>
<text x="125" y="1175" class="s">Stadtlinie Limburg</text>
<text x="125" y="1190" class="s">LM-1, LM-2, LM-3, LM-4, LM- 5, LM-6</text>
<text x="95" y="1208" class="s">**</text><text x="124" y="1212" class="s">LahnStar</text>
<text x="104" y="1229" style="font-size:10px">RE25</text>
<path class="rb" d="M86,1232 H141" style="stroke-width:5"/><path class="rw" d="M86,1232 H141" style="stroke-width:2;stroke-dasharray:12 10"/>
<text x="147" y="1236" class="s">Bahnlinie</text>
<text x="109" y="1246" style="font-size:10px;fill:#e3262b">12</text>
<path d="M86,1249 H141" stroke="#e3262b" stroke-width="3"/>
<text x="147" y="1253" class="s">Buslinie</text>
<circle cx="95" cy="1265" r="5" class="st"/><text x="117" y="1271" class="s">Ort im Landkreis Limburg-Weilbug</text>
<circle cx="95" cy="1286" r="5" class="so"/><text x="117" y="1291" class="s">Ort außerhalb des Landkreises</text>
</g>
<g>
<text x="111" y="1382" style="font-size:9px;fill:#999">© Verkehrsgesellschaft Land-Dill-Weil mbH (VLDW) 2022</text>
<text x="111" y="1395" style="font-size:9px;fill:#999">Auch bei sorgfältiger Bearbeitung und Prüfung sind Fehler nicht immer auszuschließen.</text>
<text x="111" y="1408" style="font-size:9px;fill:#999">Alle Angaben in diesem Liniennetzplan sind deshalb ohne Gewähr. Reproduktionen aller</text>
<text x="111" y="1421" style="font-size:9px;fill:#999">Art, außer zum persönlichen Gebrauch, nur mit schriftlicher Genehmigung der VLDW.</text>
</g>
<text x="70" y="1605" style="font-family:'Liberation Sans',sans-serif;font-size:22px;fill:#111">Stand: 2025</text>
</svg>
</body></html>
